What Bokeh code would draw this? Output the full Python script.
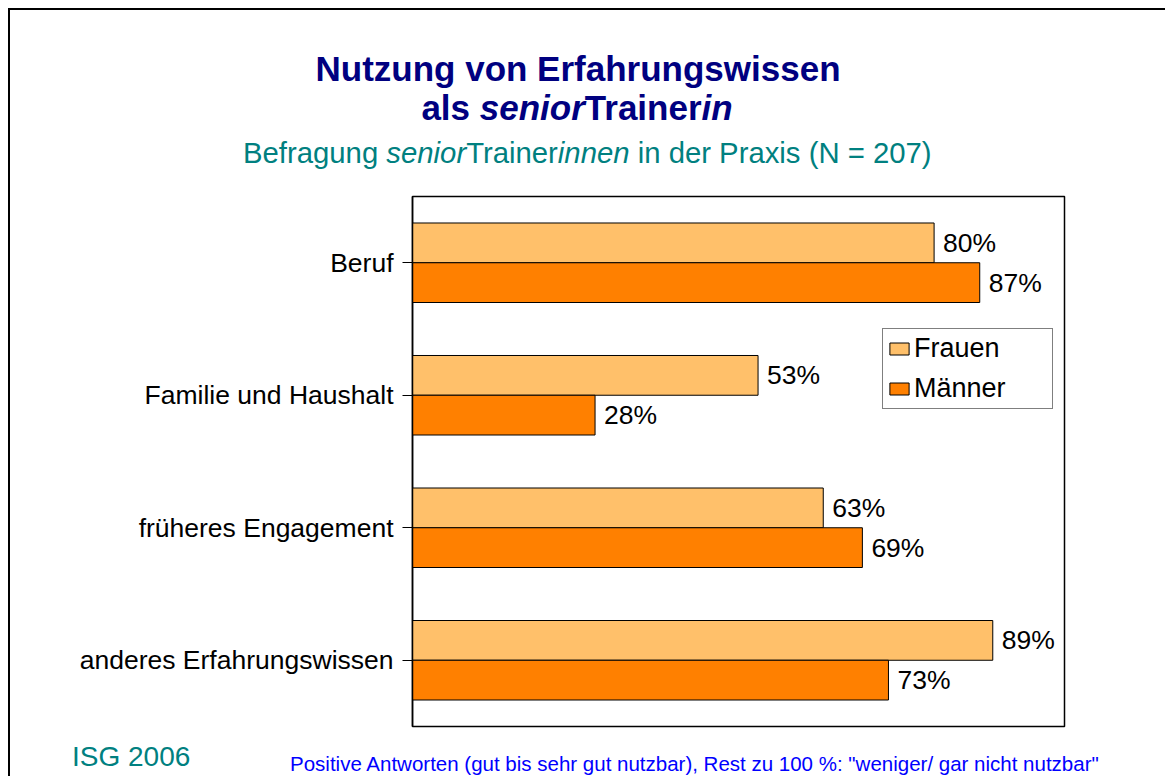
from bokeh.plotting import figure
from bokeh.layouts import column
from bokeh.models import (FactorRange, Range1d, Legend, LegendItem, ColumnDataSource, Div,
                          InlineStyleSheet)
from bokeh.transform import dodge
from bokeh.core.properties import value
from bokeh.embed import file_html
from bokeh.resources import INLINE

# ---------------- data ----------------
categories = ["Beruf", "Familie und Haushalt", "früheres Engagement", "anderes Erfahrungswissen"]
frauen = [80, 53, 63, 89]
maenner = [87, 28, 69, 73]
series_names = ["Frauen", "Männer"]
frauen_labels = ["80%", "53%", "63%", "89%"]
maenner_labels = ["87%", "28%", "69%", "73%"]

FONT = "Liberation Sans"
C_FRAUEN = "#FFC06A"
C_MAENNER = "#FF8000"
NAVY = "#000080"
TEAL = "#008080"
BLUE = "#0000FF"

W = 1165
TOP_H = 183
FOOT_H = 42

src = ColumnDataSource(dict(cat=categories, frauen=frauen, maenner=maenner,
                            flab=frauen_labels, mlab=maenner_labels))

p = figure(width=W, height=13 + 530 + 8, output_backend="svg", toolbar_location=None,
           y_range=FactorRange(factors=categories[::-1], range_padding=0),
           x_range=Range1d(0, 100),
           min_border_left=412, min_border_right=W - 1064, min_border_top=13, min_border_bottom=8)
p.title = None
p.background_fill_color = "white"
p.border_fill_alpha = 0
p.outline_line_color = "black"
p.outline_line_width = 1.5
p.xgrid.visible = False
p.ygrid.visible = False
p.xaxis.visible = False

ya = p.yaxis[0]
ya.axis_line_color = "black"
ya.axis_line_width = 1.5
ya.major_tick_out = 10
ya.major_tick_in = 0
ya.major_tick_line_color = "black"
ya.minor_tick_line_color = None
ya.major_label_standoff = 9
ya.major_label_text_font = FONT
ya.major_label_text_font_size = "26.5px"
ya.major_label_text_color = "black"

rf = p.hbar(y=dodge('cat', 0.15, range=p.y_range), left=0, right='frauen', height=0.3,
            source=src, fill_color=C_FRAUEN, line_color="black", line_width=1)
rm = p.hbar(y=dodge('cat', -0.15, range=p.y_range), left=0, right='maenner', height=0.3,
            source=src, fill_color=C_MAENNER, line_color="black", line_width=1)

for col, lab, off in (("frauen", "flab", 0.15), ("maenner", "mlab", -0.15)):
    p.text(x=col, y=dodge('cat', off, range=p.y_range), text=lab, source=src,
           x_offset=9, text_baseline="middle", text_align="left",
           text_font=value(FONT), text_font_size="26.5px", text_color="black")

legend = Legend(items=[LegendItem(label=series_names[0], renderers=[rf]),
                       LegendItem(label=series_names[1], renderers=[rm])],
                location=(470, 317), orientation="vertical",
                glyph_width=24, glyph_height=15, label_standoff=3, label_width=134,
                padding=4, spacing=9, margin=0,
                label_text_font=FONT, label_text_font_size="27px", label_text_color="black",
                border_line_color="black", border_line_width=1, background_fill_color="white",
                background_fill_alpha=1)
p.add_layout(legend, "center")


def top_of(baseline, size):
    # line-height = font-size; Liberation Sans ascent .905 / descent .212
    return baseline - 0.8465 * size


def line(left, baseline, size, color, html, bold=False):
    return (f'<div style="position:absolute;left:{left}px;top:{top_of(baseline, size):.1f}px;'
            f'font-size:{size}px;line-height:{size}px;color:{color};white-space:nowrap;'
            f'font-weight:{"bold" if bold else "normal"};">{html}</div>')


FAM = "font-family:'Liberation Sans',Arial,sans-serif;"

top_html = (f'<div style="position:relative;width:{W}px;height:{TOP_H}px;{FAM}">'
            + line(315.5, 80.7, 35, NAVY, "Nutzung von Erfahrungswissen", True)
            + line(421.4, 120, 35, NAVY, "als <i>senior</i>Trainer<i>in</i>", True)
            + line(243, 162.3, 29.3, TEAL,
                   "Befragung <i>senior</i>Trainer<i>innen</i> in der Praxis (N = 207)")
            + '</div>')

foot_html = (f'<div style="position:relative;width:{W}px;height:{FOOT_H}px;{FAM}">'
             + line(72, 767 - 734, 28, TEAL, "ISG 2006")
             + line(290, 771 - 734, 20.5, BLUE,
                    "Positive Antworten (gut bis sehr gut nutzbar), Rest zu 100 %: "
                    "&quot;weniger/ gar nicht nutzbar&quot;")
             + '</div>')

top_div = Div(text=top_html, width=W, height=TOP_H, margin=0)
foot_div = Div(text=foot_html, width=W, height=FOOT_H, margin=0)

frame_css = InlineStyleSheet(css=""":host {
  background:
    linear-gradient(#000, #000) 8px 8px / 2px calc(100% - 8px) no-repeat,
    linear-gradient(#000, #000) 8px 8px / calc(100% - 8px) 2px no-repeat,
    #ffffff;
}""")

layout = column(top_div, p, foot_div, spacing=0, margin=0, stylesheets=[frame_css])

open("out.html", "w").write(file_html(layout, INLINE))
